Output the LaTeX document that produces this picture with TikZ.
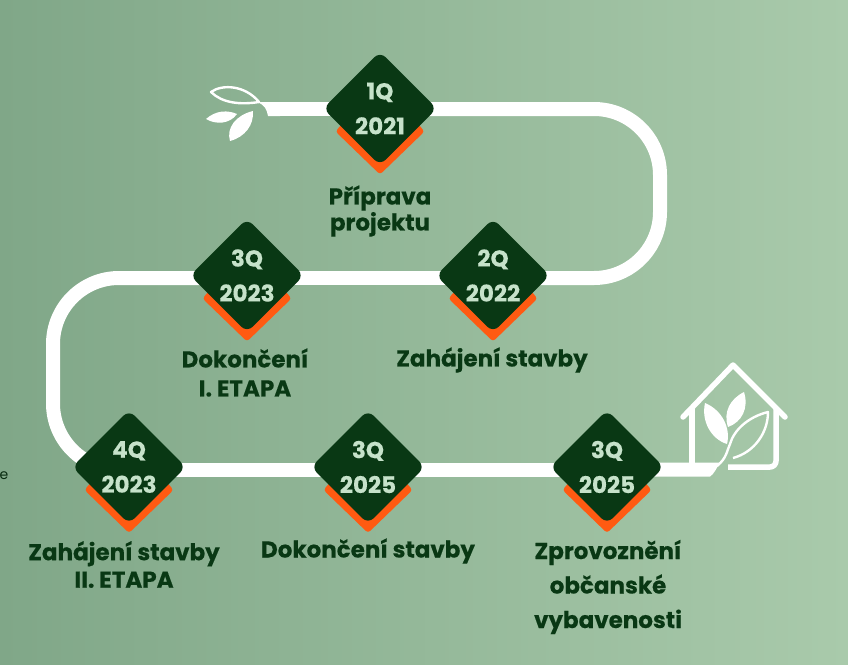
\documentclass[tikz,border=0pt]{standalone}
\usepackage{fontspec}
\setmainfont{Poppins}[BoldFeatures={FakeBold=0.35}]
\usetikzlibrary{shapes.geometric,backgrounds}
\definecolor{deep}{HTML}{093814}
\definecolor{pale}{HTML}{C6E2CA}
\definecolor{flame}{HTML}{FF5A12}
\definecolor{bgl}{HTML}{80A788}
\definecolor{bgr}{HTML}{A9CAAB}
\tikzset{
  mile/.style={shape=diamond,aspect=1,fill=deep,rounded corners=8pt,inner sep=0pt,minimum width=114pt,minimum height=114pt,text=pale,align=center,font=\fontsize{23}{35}\selectfont\bfseries},
  cap label/.style={text=deep,align=center,inner sep=0pt,font=\fontsize{23}{26}\selectfont\bfseries},
  route/.style={draw=white,line width=14pt},
  thin white/.style={draw=white,line width=5.5pt,line cap=round,line join=round},
}
\newcommand{\milestone}[5]{%
  \node[mile] (#1) at (#2,#3) {#4\\#5};
  \begin{scope}[on background layer]
    \fill[flame,rounded corners=3pt] (#2-44.5,#3+23) -- (#2-36,#3+13) -- (#2+36,#3+13) -- (#2+44.5,#3+23) -- (#2,#3+66) -- cycle;
  \end{scope}
}
\begin{document}
\begin{tikzpicture}[x=1pt,y=-1pt]
\useasboundingbox (0,0) rectangle (848,664);
\begin{scope}[on background layer]
  \shade[left color=bgl,right color=bgr] (0,0) rectangle (848,664);
\end{scope}
\node[inner sep=0pt,anchor=base east,text=deep!75!black,font=\fontsize{14}{14}\selectfont] (stray) at (8.6,479) {e};

\milestone{a}{380}{108.5}{1Q}{2021}
\milestone{b}{493}{275.5}{2Q}{2022}
\milestone{c}{247}{275.5}{3Q}{2023}
\milestone{d}{129}{467}{4Q}{2023}
\milestone{e}{368}{467}{3Q}{2025}
\milestone{f}{607}{467}{3Q}{2025}

\node[cap label] (la) at (380,211) {Příprava\\projektu};
\node[cap label,font=\fontsize{23}{29}\selectfont\bfseries] (lc) at (245,372.5) {Dokončení\\I. ETAPA};
\node[cap label] (lb) at (492,360) {Zahájení stavby};
\node[cap label,font=\fontsize{23}{27.5}\selectfont\bfseries] (ld) at (124,564.5) {Zahájení stavby\\II. ETAPA};
\node[cap label] (le) at (368,551) {Dokončení stavby};
\node[cap label,font=\fontsize{23}{34.5}\selectfont\bfseries] (lf) at (608,587) {Zprovoznění\\občanské\\vybavenosti};

\coordinate (start) at (272,109);
\coordinate (tr) at (660,109);
\coordinate (br) at (660,278);
\coordinate (tl) at (53,278);
\coordinate (bl) at (53,469.5);
\coordinate (j1) at (380,109);
\coordinate (j2) at (493,278);
\coordinate (j3) at (247,278);
\coordinate (j4) at (129,469.5);
\coordinate (j5) at (368,469.5);
\coordinate (j6) at (607,469.5);

\begin{scope}[on background layer]
  \draw[route] (start) -- (j1);
  \draw[route,rounded corners=66pt] (j1) -- (tr) -- (br) -- (j2);
  \draw[route] (j2) -- (j3);
  \draw[route,rounded corners=66pt] (j3) -- (tl) -- (bl) -- (j4);
  \draw[route] (j4) -- (j5);
  \draw[route] (j5) -- (j6);
  \fill[white] (607,462.5) -- (720,462.5) .. controls (716,469) and (714,474) .. (710,476.5) -- (607,476.5) -- cycle;
\end{scope}

% start sprig
\fill[white] (257,102) -- (280,102) -- (280,116) -- (268,116) .. controls (267,110) and (265,105) .. (257,102) -- cycle;
\draw[white,line width=2.4pt,line join=round] (211,92) .. controls (222,84) and (245,85) .. (259,102) .. controls (240,105) and (222,103) .. (211,92) -- cycle;
\fill[white] (206,119) .. controls (216,110) and (228,110) .. (237,114) .. controls (230,124) and (216,125) .. (206,119) -- cycle;
\fill[white] (230,141) .. controls (226,128) and (236,115) .. (253,111) .. controls (254,125) and (245,137) .. (230,141) -- cycle;

% house
\draw[thin white] (683,417) -- (733,365) -- (785,417);
\draw[thin white,line cap=butt] (692,407) -- (692,464);
\draw[thin white,line cap=butt,rounded corners=6pt] (776,407) -- (776,467) -- (728,467);
\fill[white] (705,403) .. controls (722,410) and (731,428) .. (727,444) .. controls (711,439) and (701,421) .. (705,403) -- cycle;
\fill[white] (744,392) .. controls (749,408) and (742,422) .. (728,427) .. controls (723,412) and (730,399) .. (744,392) -- cycle;
\draw[white,line width=2.4pt,line join=round] (717,466) .. controls (727,458) and (727,450) .. (730,444) .. controls (734,430) and (748,417) .. (768,412) .. controls (768,432) and (755,452) .. (733,458);
\end{tikzpicture}
\end{document}
